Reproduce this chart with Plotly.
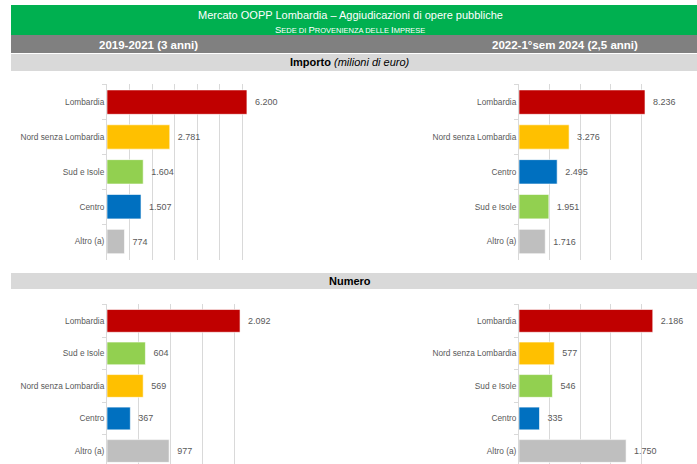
import plotly.graph_objects as go

# ---- data ----
imp_21_cat = ["Lombardia", "Nord senza Lombardia", "Sud e Isole", "Centro", "Altro (a)"]
imp_21_val = [6200, 2781, 1604, 1507, 774]
imp_24_cat = ["Lombardia", "Nord senza Lombardia", "Centro", "Sud e Isole", "Altro (a)"]
imp_24_val = [8236, 3276, 2495, 1951, 1716]
num_21_cat = ["Lombardia", "Sud e Isole", "Nord senza Lombardia", "Centro", "Altro (a)"]
num_21_val = [2092, 604, 569, 367, 977]
num_24_cat = ["Lombardia", "Nord senza Lombardia", "Sud e Isole", "Centro", "Altro (a)"]
num_24_val = [2186, 577, 546, 335, 1750]

title = "Mercato OOPP Lombardia – Aggiudicazioni di opere pubbliche"
period_left = "2019-2021 (3 anni)"
period_right = "2022-1°sem 2024 (2,5 anni)"

colors = {
    "Lombardia": "#C00000",
    "Nord senza Lombardia": "#FFC000",
    "Sud e Isole": "#92D050",
    "Centro": "#0070C0",
    "Altro (a)": "#BFBFBF",
}

W, H = 697, 464
FONT = "Liberation Sans, Arial, sans-serif"

def px(x):
    return x / W

def py(y):
    return 1 - y / H

fig = go.Figure()

panels = [
    (imp_21_cat, imp_21_val, "x", "y"),
    (imp_24_cat, imp_24_val, "x2", "y2"),
    (num_21_cat, num_21_val, "x3", "y3"),
    (num_24_cat, num_24_val, "x4", "y4"),
]

for cats, vals, xa, ya in panels:
    fig.add_trace(go.Bar(
        y=cats, x=vals, orientation="h", xaxis=xa, yaxis=ya,
        marker=dict(color=[colors[c] for c in cats],
                    line=dict(color="rgba(255,255,255,0.6)", width=1)),
        width=0.7,
        texttemplate="  %{x:,.0f}", textposition="outside",
        textfont=dict(family=FONT, size=9, color="#595959"),
        cliponaxis=False, showlegend=False, hoverinfo="skip",
    ))

doms = {
    "": ([px(107), px(265)], [py(260), py(84)], 7000, 1000, [4.53, -0.52]),
    "2": ([px(519), px(672)], [py(260), py(84)], 10000, 2000, [4.53, -0.52]),
    "3": ([px(107), px(266)], [py(464), py(304)], 2500, 500, [4.4, -0.52]),
    "4": ([px(519), px(672)], [py(464), py(304)], 2500, 500, [4.4, -0.52]),
}

for k, (xd, yd, rng, dt, yr) in doms.items():
    fig.layout["xaxis" + k] = dict(
        domain=xd, anchor="y" + k, range=[0, rng], dtick=dt,
        showgrid=True, gridcolor="#D9D9D9", gridwidth=1,
        showticklabels=False, zeroline=False, showline=False, fixedrange=True,
    )
    fig.layout["yaxis" + k] = dict(
        domain=yd, anchor="x" + k, range=yr, type="category",
        showline=True, linecolor="#D9D9D9", linewidth=1,
        ticks="outside", tickson="boundaries", ticklen=4, tickcolor="#D9D9D9",
        tickfont=dict(family=FONT, size=8.3, color="#595959"),
        showgrid=False, fixedrange=True,
    )

shapes = [
    dict(type="rect", xref="paper", yref="paper", x0=px(11), x1=1, y0=py(35), y1=py(5),
         fillcolor="#00B050", line=dict(width=0), layer="below"),
    dict(type="rect", xref="paper", yref="paper", x0=px(11), x1=1, y0=py(53), y1=py(35),
         fillcolor="#808080", line=dict(width=0), layer="below"),
    dict(type="rect", xref="paper", yref="paper", x0=px(11), x1=1, y0=py(71), y1=py(54),
         fillcolor="#D9D9D9", line=dict(width=0), layer="below"),
    dict(type="rect", xref="paper", yref="paper", x0=px(11), x1=1, y0=py(289), y1=py(273),
         fillcolor="#D9D9D9", line=dict(width=0), layer="below"),
]

def ann(text, x, y, size, color, bold=False):
    return dict(text=("<b>%s</b>" % text) if bold else text, x=px(x), y=py(y),
                xref="paper", yref="paper", showarrow=False,
                xanchor="center", yanchor="middle",
                font=dict(family=FONT, size=size, color=color))

sub = ("S<span style='font-size:7.5px'>EDE DI </span>P<span style='font-size:7.5px'>ROVENIENZA DELLE </span>"
       "I<span style='font-size:7.5px'>MPRESE</span>")

annotations = [
    ann(title, 350, 15, 11, "white"),
    ann(sub, 350, 29, 9.5, "white"),
    ann(period_left, 148, 45, 11.5, "white", bold=True),
    ann(period_right, 565, 45, 11.5, "white", bold=True),
    ann("<b>Importo</b> <i>(milioni di euro)</i>", 350, 62, 11, "black"),
    ann("Numero", 350, 281, 11, "black", bold=True),
]

fig.update_layout(
    width=W, height=H, margin=dict(l=0, r=0, t=0, b=0),
    paper_bgcolor="white", plot_bgcolor="white",
    separators=",.", shapes=shapes, annotations=annotations,
    bargap=0.3, font=dict(family=FONT),
)

fig.write_html("out.html", config={"displayModeBar": False},
               post_script="document.body.style.margin='0';document.body.style.overflow='hidden';")
